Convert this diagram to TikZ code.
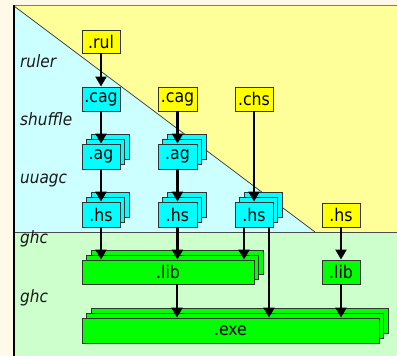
\documentclass[tikz,border=0pt]{standalone}
\usepackage{fontspec}
\setmainfont{DejaVu Sans Condensed}
\usetikzlibrary{arrows.meta,shadows}
\definecolor{cream}{HTML}{FFFAE8}
\definecolor{lyellow}{HTML}{FFFF99}
\definecolor{lcyan}{HTML}{CCFFFF}
\definecolor{lgreen}{HTML}{CCFFCC}
\definecolor{byellow}{HTML}{FFFF00}
\definecolor{bcyan}{HTML}{00FFFF}
\definecolor{bgreen}{HTML}{00FF00}
\definecolor{frameline}{HTML}{7F7F6A}
\tikzset{
  box/.style={draw=black!80, line width=0.9pt, inner sep=0pt, font=\fontsize{17.5}{20}\selectfont},
  ybox/.style={box, fill=byellow},
  cbox/.style={box, fill=bcyan},
  gbox/.style={box, fill=bgreen},
  stack/.style={double copy shadow={shadow xshift=4.75pt, shadow yshift=4.75pt}},
  flow/.style={line width=2.3pt, -{Triangle[length=10pt,width=11pt]}},
  lbl/.style={anchor=base west, inner sep=0pt, font=\fontsize{17}{20}\selectfont\itshape, text=black!90},
}
\begin{document}
\begin{tikzpicture}[x=1pt,y=-1pt]
\useasboundingbox (0,0) rectangle (397,356);
% background
\fill[cream] (0,0) rectangle (397,356);
\fill[lgreen] (14,232) rectangle (397,356);
\fill[lcyan] (14,6) -- (315,232) -- (14,232) -- cycle;
\fill[lyellow] (14,6) -- (397,6) -- (397,232) -- (315,232) -- cycle;
\draw[black!80, line width=0.7pt] (14,6) -- (315,232);
\draw[black!70, line width=0.7pt] (14,232) -- (397,232);
\draw[frameline, line width=1.5pt] (14,5.5) -- (397,5.5);
\draw[black, line width=1.1pt] (14,5) -- (14,356);
% labels
\node[lbl] (lruler) at (20,67) {ruler};
\node[lbl] (lshuffle) at (20,125) {shuffle};
\node[lbl] (luuagc) at (20,183) {uuagc};
\node[lbl] (lghc1) at (20,243) {ghc};
\node[lbl] (lghc2) at (20,302) {ghc};
% boxes
\node[ybox, minimum width=38pt, minimum height=23pt] (rul) at (101,41.5) {.rul};
\node[cbox, minimum width=38pt, minimum height=24pt] (cag1) at (101,99) {.cag};
\node[ybox, minimum width=39pt, minimum height=24pt] (cag2) at (177.5,99) {.cag};
\node[ybox, minimum width=38pt, minimum height=24pt] (chs) at (254,99) {.chs};
\node[cbox, stack, minimum width=38pt, minimum height=25pt] (ag1) at (101,156.5) {.ag};
\node[cbox, stack, minimum width=39pt, minimum height=25pt] (ag2) at (177.5,156.5) {.ag};
\node[cbox, stack, minimum width=38pt, minimum height=25pt] (hs1) at (101,214.5) {.hs};
\node[cbox, stack, minimum width=39pt, minimum height=25pt] (hs2) at (177.5,214.5) {.hs};
\node[cbox, stack, minimum width=38pt, minimum height=25pt] (hs3) at (254,214.5) {.hs};
\node[ybox, minimum width=38pt, minimum height=24pt] (hsy) at (341,215) {.hs};
\node[gbox, stack, minimum width=172pt, minimum height=24pt] (lib) at (168,272) {.lib};
\node[gbox, minimum width=38pt, minimum height=24pt] (libs) at (341,272) {.lib};
\node[gbox, stack, minimum width=297pt, minimum height=25pt] (exe) at (230.5,330.5) {.exe};
% arrows
\draw[flow] (rul.south) -- (cag1.north);
\draw[flow] (cag1.south) -- (ag1.north);
\draw[flow] (cag2.south) -- (ag2.north);
\draw[flow] (ag1.south) -- (hs1.north);
\draw[flow] (ag2.south) -- (hs2.north);
\draw[flow] (chs.south) -- (hs3.north);
\draw[flow] (hs1.south) -- (hs1.south |- lib.north);
\draw[flow] (hs2.south) -- (hs2.south |- lib.north);
\draw[flow] ([xshift=-10pt]hs3.south) -- ([xshift=-10pt]hs3.south |- lib.north);
\draw[flow] ([xshift=15pt]hs3.south) -- ([xshift=15pt]hs3.south |- exe.north);
\draw[flow] ([xshift=9pt]lib.south) -- ([xshift=9pt]lib.south |- exe.north);
\draw[flow] (hsy.south) -- (libs.north);
\draw[flow] (libs.south) -- (libs.south |- exe.north);
\end{tikzpicture}
\end{document}
